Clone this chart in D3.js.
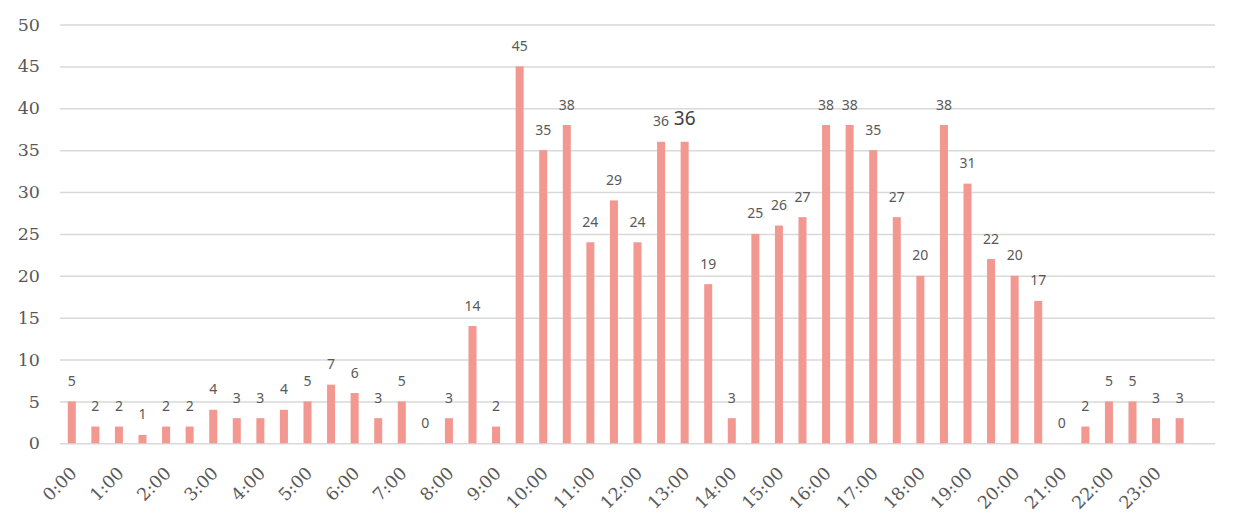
<!DOCTYPE html>
<html lang="en">
<head>
    <meta charset="UTF-8">
    <title>Counts by half hour</title>
    <script src="https://d3js.org/d3.v7.min.js"></script>
    <style>
        body {
            margin: 0;
            background: white;
        }
        svg {
            display: block;
        }
        .serif text {
            font-family: "DejaVu Serif", "Liberation Serif", "Noto Serif", serif;
            font-size: 17.5px;
            fill: #595959;
        }
    </style>
</head>
<body>
    <svg width="1237" height="531"></svg>

    <script>
        // half-hour slots, the last slot is left empty like in the original
        const slots = d3.range(49).map(i => `${Math.floor(i / 2)}:${i % 2 ? "30" : "00"}`);
        const tickLabels = slots.filter((s, i) => i % 2 === 0 && i < 48);
        const counts = [
            5, 2, 2, 1, 2, 2, 4, 3, 3, 4, 5, 7, 6, 3, 5, 0,
            3, 14, 2, 45, 35, 38, 24, 29, 24, 36, 36, 19, 3, 25, 26, 27,
            38, 38, 35, 27, 20, 38, 31, 22, 20, 17, 0, 2, 5, 5, 3, 3
        ];
        const yTicks = [0, 5, 10, 15, 20, 25, 30, 35, 40, 45, 50];
        const bigLabelIndex = 26;

        const svg = d3.select("svg");
        const plot = {left: 60, right: 1215, top: 24.5, bottom: 443.3};

        const x = d3.scaleBand()
            .domain(slots)
            .range([plot.left, plot.right])
            .paddingInner(0.66)
            .paddingOuter(0.33);

        const y = d3.scaleLinear()
            .domain([0, 50])
            .range([plot.bottom, plot.top]);

        // gridlines + y labels
        const yAxis = svg.append("g")
            .attr("class", "serif")
            .attr("transform", `translate(${plot.left},0)`)
            .call(d3.axisLeft(y).tickValues(yTicks).tickSize(0).tickPadding(20))
            .call(g => g.select(".domain").remove())
            .attr("font-family", null)
            .attr("font-size", null);
        yAxis.selectAll(".tick line")
            .attr("x2", plot.right - plot.left)
            .attr("stroke", "#d9d9d9")
            .attr("stroke-width", 1.5);

        // x labels
        const xAxis = svg.append("g")
            .attr("class", "serif")
            .attr("transform", `translate(0,${plot.bottom})`)
            .call(d3.axisBottom(x).tickValues(tickLabels).tickSize(0).tickPadding(0))
            .call(g => g.select(".domain").remove())
            .attr("font-family", null)
            .attr("font-size", null);
        xAxis.selectAll(".tick text")
            .attr("fill", null)
            .attr("text-anchor", "end")
            .attr("dy", 0)
            .attr("transform", "translate(6,31) rotate(-45)");

        const data = counts.map((v, i) => ({slot: slots[i], value: v, i}));

        svg.append("g")
            .selectAll("rect")
            .data(data)
            .join("rect")
            .attr("x", d => x(d.slot))
            .attr("y", d => y(d.value))
            .attr("width", x.bandwidth())
            .attr("height", d => plot.bottom - y(d.value))
            .attr("fill", "#f29891");

        svg.append("g")
            .selectAll("text")
            .data(data)
            .join("text")
            .attr("x", d => x(d.slot) + x.bandwidth() / 2)
            .attr("y", d => y(d.value) - (d.i === bigLabelIndex ? 16.5 : 15.5))
            .attr("text-anchor", "middle")
            .attr("fill", d => d.i === bigLabelIndex ? "#404040" : "#595959")
            .style("font-family", "'Noto Sans', sans-serif")
            .style("font-size", d => d.i === bigLabelIndex ? "19px" : "14px")
            .text(d => d.value);
    </script>
</body>
</html>
